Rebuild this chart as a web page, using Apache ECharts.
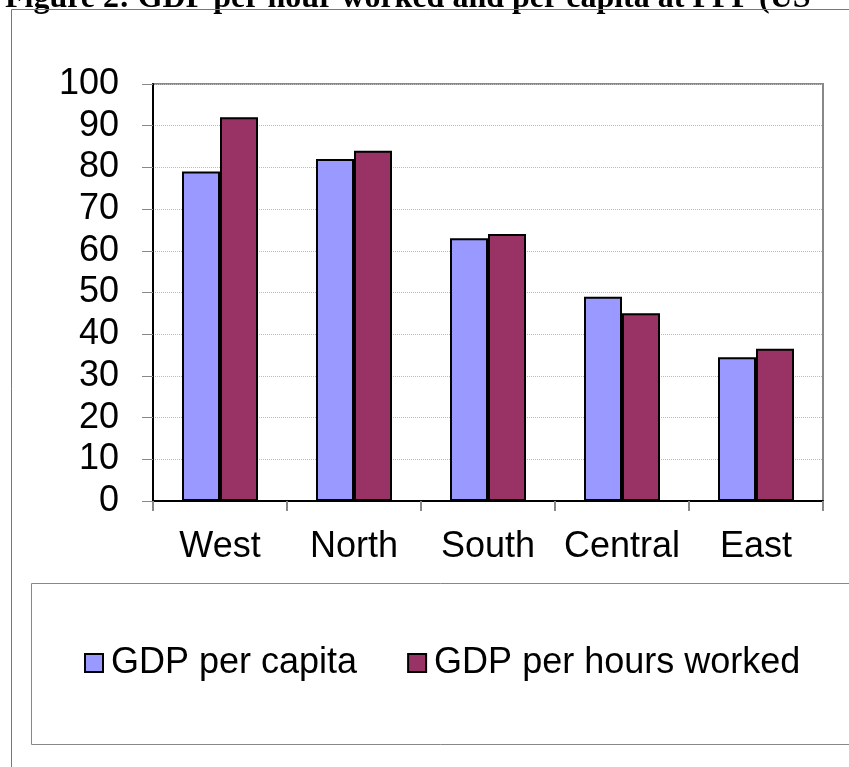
<!DOCTYPE html>
<html>
<head>
<meta charset="utf-8">
<script src="https://cdn.jsdelivr.net/npm/echarts@6/dist/echarts.min.js"></script>
<style>
  html, body { margin: 0; padding: 0; background: #fff; }
  #chart { width: 849px; height: 767px; }
</style>
</head>
<body>
<div id="chart"></div>
<script>
// data
const regions = ["West", "North", "South", "Central", "East"];
const perCapita = [79, 82, 63, 49, 34.5];
const perHour = [92, 84, 64, 45, 36.5];
const yTicks = [0, 10, 20, 30, 40, 50, 60, 70, 80, 90, 100];
const titleText = "Figure 2: GDP per hour worked and per capita at PPP (US";

const chart = echarts.init(document.getElementById("chart"), null, { renderer: "canvas" });

const font = "Liberation Sans, Arial, sans-serif";

const option = {
  animation: false,
  backgroundColor: "#fff",
  textStyle: { fontFamily: font },
  graphic: [
    // title, cut off at the top of the page
    {
      type: "text",
      left: 5,
      top: -17,
      style: {
        text: titleText,
        font: "bold 32px 'Liberation Serif', 'Times New Roman', serif",
        fill: "#000"
      }
    },
    // outer frame
    {
      type: "rect",
      shape: { x: 11.5, y: 9.5, width: 900, height: 900 },
      style: { fill: "none", stroke: "#777", lineWidth: 1 }
    },
    // legend frame
    {
      type: "rect",
      shape: { x: 31.5, y: 583.5, width: 900, height: 161 },
      style: { fill: "none", stroke: "#888", lineWidth: 1 }
    }
  ],
  grid: {
    left: 153,
    top: 84,
    right: 26,
    bottom: 266,
    show: true,
    borderColor: "#888",
    borderWidth: 2,
    backgroundColor: "transparent"
  },
  legend: {
    left: 84,
    top: 645,
    padding: 0,
    icon: "rect",
    itemWidth: 18,
    itemHeight: 18,
    itemGap: 50,
    textStyle: { fontSize: 36, color: "#000", fontFamily: font, padding: [0, 0, 0, 3] },
    data: ["GDP per capita", "GDP per hours worked"]
  },
  xAxis: {
    type: "category",
    data: regions,
    axisLine: { lineStyle: { color: "#000", width: 2 } },
    axisTick: { show: true, length: 10, lineStyle: { color: "#888", width: 2 } },
    axisLabel: { fontSize: 36, color: "#000", margin: 28, interval: 0, fontFamily: font },
    splitLine: { show: false }
  },
  yAxis: {
    type: "value",
    min: 0,
    max: 100,
    interval: 10,
    axisLine: { show: true, lineStyle: { color: "#000", width: 2 } },
    axisTick: { show: true, length: 11, lineStyle: { color: "#888", width: 1 } },
    axisLabel: {
      fontSize: 36,
      color: "#000",
      margin: 34,
      fontFamily: font,
      formatter: v => (yTicks.includes(v) ? String(v) : "")
    },
    splitLine: { show: true, lineStyle: { color: "#bbb", width: 1, type: "dotted" } }
  },
  series: [
    {
      name: "GDP per capita",
      type: "bar",
      data: perCapita,
      barWidth: 38,
      barGap: "0%",
      itemStyle: { color: "#9999FF", borderColor: "#000", borderWidth: 2 }
    },
    {
      name: "GDP per hours worked",
      type: "bar",
      data: perHour,
      barWidth: 38,
      barGap: "0%",
      itemStyle: { color: "#993366", borderColor: "#000", borderWidth: 2 }
    }
  ]
};

chart.setOption(option);
</script>
</body>
</html>
